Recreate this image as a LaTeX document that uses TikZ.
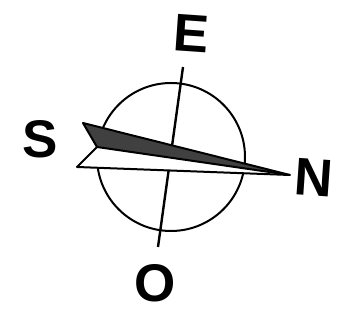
\documentclass[tikz,border=0pt]{standalone}
\usepackage{fontspec}
\setmainfont{Liberation Sans}
\begin{document}
\begin{tikzpicture}[x=1pt,y=1pt,
  lbl/.style={font=\fontsize{53}{53}\selectfont\bfseries, inner sep=0pt, anchor=center},
  ring/.style={draw=black, line width=2pt},
  axis/.style={draw=black, line width=2.4pt},
  needle/.style={draw=black, line width=2pt, line join=round}]
\useasboundingbox (0,0) rectangle (337,320);
% circle
\node[ring, circle, minimum size=148pt, inner sep=0pt] (c) at (171,163) {};
% axis line
\coordinate (top) at (183,253);
\coordinate (bot) at (158,73);
\draw[axis] (top) -- (bot);
% needle
\coordinate (sl) at (83,197);
\coordinate (nt) at (97,173);
\coordinate (tip) at (290,145);
\coordinate (wl) at (77,153);
\fill[white] (nt) -- (wl) -- (tip) -- cycle;
\draw[needle] (nt) -- (wl) -- (tip);
\filldraw[needle, fill=black!75] (sl) -- (nt) -- (tip) -- cycle;
% labels
\node[lbl, rotate=-4] (E) at (191.5,286) {E};
\node[lbl] (S) at (40,181) {S};
\node[lbl, rotate=-4] (N) at (314,142.5) {N};
\node[lbl] (O) at (155,37) {O};
\end{tikzpicture}
\end{document}
